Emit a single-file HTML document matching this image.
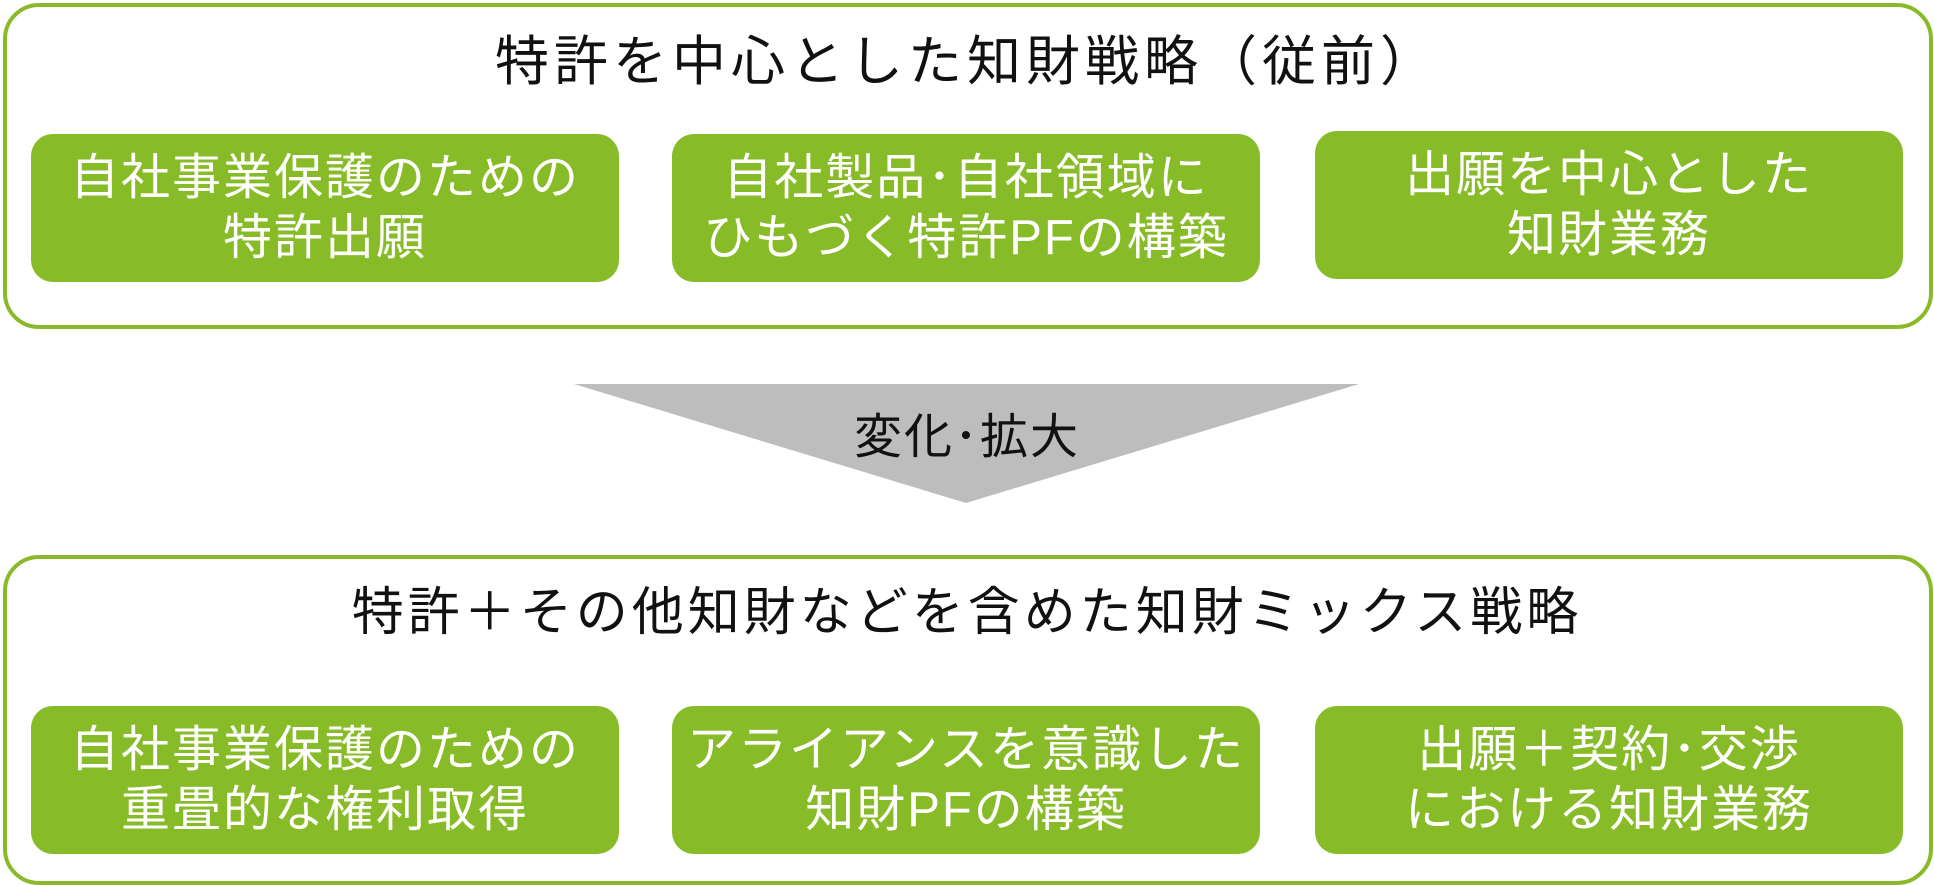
<!DOCTYPE html>
<html><head><meta charset="utf-8"><style>
body{margin:0;width:1934px;height:884px;background:#fff;position:relative;overflow:hidden;font-family:"Liberation Sans","Noto Sans CJK JP",sans-serif;}
.outer{position:absolute;left:3px;width:1922px;height:318px;border:4px solid #8aba2a;border-radius:36px;}
.title{position:absolute;left:0;width:1934px;text-align:center;font-size:54px;color:#111;line-height:64px;letter-spacing:5px;}
.b{position:absolute;width:588px;height:148px;background:#88bb28;border-radius:22px;color:#fff;font-size:49px;line-height:60px;display:flex;align-items:center;justify-content:center;text-align:center;letter-spacing:2px;}
.tri{position:absolute;left:0;top:0;}
</style></head><body>
<div class="outer" style="top:3px"></div>
<div class="title" style="top:30px">特許を中心とした知財戦略（従前）</div>
<div class="b" style="left:31px;top:134px">自社事業保護のための<br>特許出願</div>
<div class="b" style="left:672px;top:134px">自社製品･自社領域に<br>ひもづく特許PFの構築</div>
<div class="b" style="left:1315px;top:131px">出願を中心とした<br>知財業務</div>
<svg class="tri" width="1934" height="884"><polygon points="574,384 1359,384 966,503" fill="#bcbdbc"/></svg>
<div class="title" style="top:406px;font-size:48px;letter-spacing:2px">変化･拡大</div>
<div class="outer" style="top:555px;height:322px"></div>
<div class="title" style="top:581px;font-size:52px;letter-spacing:4px">特許＋その他知財などを含めた知財ミックス戦略</div>
<div class="b" style="left:31px;top:706px">自社事業保護のための<br>重畳的な権利取得</div>
<div class="b" style="left:672px;top:706px">アライアンスを意識した<br>知財PFの構築</div>
<div class="b" style="left:1315px;top:706px">出願＋契約･交渉<br>における知財業務</div>
</body></html>
